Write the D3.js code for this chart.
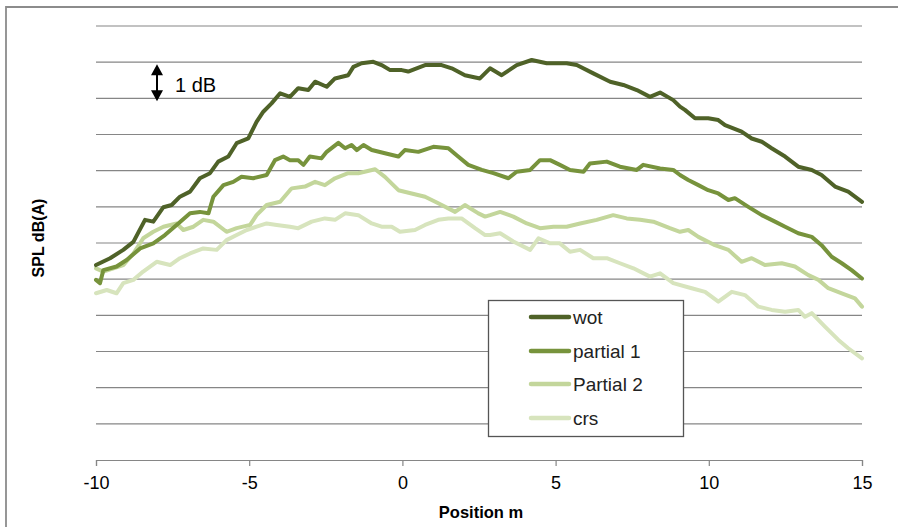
<!DOCTYPE html>
<meta charset="utf-8">
<style>
body { margin: 0; background: #fff; font-family: "Liberation Sans", Arial, sans-serif; }
.grid line { stroke: #868686; stroke-width: 1.2px; }
.axis path, .axis line { stroke: #868686; stroke-width: 1.2px; }
.axis text { font-size: 18px; fill: #000; font-family: "Liberation Sans", Arial, sans-serif; }
.series { fill: none; stroke-width: 4px; stroke-linejoin: round; stroke-linecap: round; }
</style>
<body>
<div id="container"></div>
<script src="https://cdnjs.cloudflare.com/ajax/libs/d3/7.8.5/d3.min.js"></script>
<script>

// position (m), level (dB, relative)
var wot = [
  [-10.00,5.39],[-9.54,5.58],[-9.11,5.81],[-8.78,6.03],[-8.40,6.64],[-8.13,6.59],[-7.80,6.99],
  [-7.53,7.05],[-7.26,7.28],[-6.93,7.42],[-6.61,7.79],[-6.28,7.93],[-6.01,8.25],[-5.68,8.39],
  [-5.41,8.76],[-5.03,8.89],[-4.76,9.35],[-4.54,9.63],[-4.27,9.86],[-3.99,10.14],[-3.67,10.04],
  [-3.40,10.28],[-3.07,10.23],[-2.85,10.46],[-2.47,10.32],[-2.20,10.55],[-1.77,10.64],[-1.60,10.87],
  [-1.33,10.97],[-0.95,11.01],[-0.68,10.92],[-0.40,10.78],[-0.02,10.78],[0.19,10.74],[0.74,10.92],
  [1.28,10.92],[1.61,10.83],[2.04,10.64],[2.53,10.55],[2.86,10.83],[3.24,10.64],[3.73,10.92],
  [4.22,11.06],[4.71,10.97],[5.36,10.97],[5.69,10.92],[6.23,10.69],[6.78,10.46],[7.21,10.37],
  [7.65,10.23],[8.08,10.04],[8.41,10.16],[8.84,9.95],[9.06,9.77],[9.22,9.68],[9.55,9.45],
  [9.98,9.45],[10.31,9.40],[10.53,9.26],[11.07,9.08],[11.40,8.89],[11.73,8.80],[12.05,8.62],
  [12.49,8.39],[12.92,8.11],[13.36,8.02],[13.68,7.88],[14.12,7.56],[14.55,7.42],[15.00,7.14]
];
var partial1 = [
  [-10.00,4.98],[-9.87,4.89],[-9.76,5.25],[-9.33,5.35],[-9.00,5.53],[-8.56,5.85],[-8.13,5.99],
  [-7.75,6.22],[-7.37,6.50],[-6.93,6.82],[-6.61,6.86],[-6.33,6.82],[-6.17,7.28],[-5.84,7.60],
  [-5.52,7.69],[-5.25,7.83],[-4.87,7.79],[-4.43,7.88],[-4.16,8.29],[-3.89,8.39],[-3.67,8.29],
  [-3.40,8.29],[-3.23,8.16],[-3.02,8.39],[-2.64,8.34],[-2.47,8.52],[-2.09,8.77],[-1.87,8.62],
  [-1.66,8.71],[-1.49,8.57],[-1.27,8.71],[-1.00,8.57],[-0.57,8.48],[-0.13,8.39],[0.08,8.57],
  [0.52,8.52],[1.01,8.66],[1.50,8.62],[1.82,8.39],[2.15,8.16],[2.59,8.02],[2.97,7.93],
  [3.46,7.79],[3.73,7.97],[4.17,8.02],[4.49,8.29],[4.82,8.29],[5.14,8.16],[5.47,8.02],
  [5.91,7.97],[6.12,8.20],[6.67,8.25],[7.10,8.11],[7.65,8.02],[7.86,8.16],[8.41,8.06],
  [8.84,8.02],[9.06,7.88],[9.33,7.74],[9.66,7.60],[9.98,7.46],[10.31,7.37],[10.64,7.19],
  [10.85,7.24],[11.29,7.00],[11.73,6.77],[12.16,6.59],[12.49,6.45],[12.92,6.27],[13.36,6.17],
  [13.68,5.94],[14.01,5.62],[14.34,5.44],[14.66,5.25],[15.00,5.02]
];
var partial2 = [
  [-10.00,5.30],[-9.76,5.21],[-9.43,5.30],[-9.11,5.39],[-8.78,5.71],[-8.46,6.13],[-8.13,6.31],
  [-7.80,6.45],[-7.37,6.54],[-7.15,6.36],[-6.82,6.45],[-6.50,6.64],[-6.17,6.59],[-5.74,6.31],
  [-5.41,6.41],[-4.97,6.50],[-4.76,6.77],[-4.43,7.05],[-3.99,7.14],[-3.67,7.46],[-3.61,7.51],
  [-3.18,7.56],[-2.85,7.69],[-2.53,7.60],[-2.20,7.79],[-1.77,7.93],[-1.44,7.93],[-0.89,8.04],
  [-0.57,7.83],[-0.13,7.46],[0.30,7.37],[0.74,7.28],[1.17,7.10],[1.72,6.86],[2.04,7.05],
  [2.48,6.82],[2.70,6.73],[2.86,6.77],[3.19,6.86],[3.62,6.73],[4.06,6.54],[4.49,6.41],
  [4.93,6.45],[5.36,6.45],[5.80,6.54],[6.34,6.64],[6.88,6.77],[7.32,6.68],[7.76,6.64],
  [8.19,6.59],[8.73,6.41],[9.06,6.31],[9.33,6.36],[9.66,6.17],[10.20,5.94],[10.64,5.81],
  [11.07,5.48],[11.40,5.58],[11.83,5.39],[12.38,5.44],[12.81,5.35],[13.25,5.11],[13.58,4.98],
  [13.90,4.75],[14.34,4.61],[14.77,4.47],[15.00,4.24]
];
var crs = [
  [-10.00,4.61],[-9.65,4.70],[-9.33,4.61],[-9.11,4.89],[-8.78,4.98],[-8.46,5.21],[-8.02,5.48],
  [-7.58,5.39],[-7.26,5.58],[-6.93,5.71],[-6.50,5.85],[-6.06,5.81],[-5.74,6.08],[-5.41,6.22],
  [-5.08,6.36],[-4.76,6.45],[-4.43,6.54],[-4.10,6.50],[-3.67,6.45],[-3.40,6.41],[-2.96,6.59],
  [-2.53,6.68],[-2.20,6.64],[-1.87,6.82],[-1.44,6.77],[-1.00,6.54],[-0.68,6.45],[-0.35,6.45],
  [-0.08,6.31],[0.41,6.36],[0.74,6.50],[1.17,6.64],[1.50,6.68],[1.93,6.68],[2.37,6.41],
  [2.70,6.22],[2.86,6.22],[3.19,6.27],[3.62,6.04],[4.17,5.81],[4.44,6.13],[4.82,5.99],
  [5.14,5.99],[5.47,5.76],[5.80,5.81],[6.23,5.58],[6.67,5.58],[7.10,5.44],[7.54,5.30],
  [8.08,5.07],[8.41,5.16],[8.84,4.89],[9.44,4.75],[9.88,4.65],[10.31,4.38],[10.75,4.65],
  [11.18,4.56],[11.62,4.24],[12.05,4.15],[12.49,4.10],[12.92,4.15],[13.14,3.96],[13.36,4.06],
  [13.79,3.69],[14.23,3.32],[14.55,3.09],[15.00,2.81]
];

var seriesNames = ["wot", "partial 1", "Partial 2", "crs"];
var seriesColors = ["#4f6228", "#77933c", "#c3d69b", "#d7e4bd"];
var xTicks = [-10, -5, 0, 5, 10, 15];
var yGrid = [1, 2, 3, 4, 5, 6, 7, 8, 9, 10, 11, 12];

var width = 898, height = 527;
var margin = {top: 26, right: 36, bottom: 67, left: 96};

var x = d3.scaleLinear().domain([-10, 15]).range([margin.left, width - margin.right]);
var y = d3.scaleLinear().domain([0, 12]).range([height - margin.bottom, margin.top]);

var svg = d3.select("#container").append("svg")
    .attr("width", width)
    .attr("height", height);

// chart frame (left and top edges visible)
svg.append("path")
    .attr("d", "M6,527 L6,7 L898,7")
    .attr("fill", "none")
    .attr("stroke", "#8c8c8c")
    .attr("stroke-width", 1.8);

// horizontal gridlines
svg.append("g").attr("class", "grid")
  .selectAll("line").data(yGrid).enter().append("line")
    .attr("x1", x(-10)).attr("x2", x(15))
    .attr("y1", function(d) { return y(d); })
    .attr("y2", function(d) { return y(d); });

// x axis (plain hyphen minus like the original)
var xAxis = d3.axisBottom(x).tickValues(xTicks).tickSize(6).tickPadding(10)
    .tickFormat(function(d) { return String(d); });
svg.append("g").attr("class", "axis")
    .attr("transform", "translate(0," + y(0) + ")")
    .call(xAxis);

// the lines
var line = d3.line()
    .x(function(d) { return x(d[0]); })
    .y(function(d) { return y(d[1]); });

var allSeries = [crs, partial2, partial1, wot];
var allColors = [seriesColors[3], seriesColors[2], seriesColors[1], seriesColors[0]];
allSeries.forEach(function(s, i) {
  svg.append("path")
      .attr("class", "series")
      .attr("d", line(s))
      .attr("stroke", allColors[i]);
});

// 1 dB marker
var ax = 157;
svg.append("line")
    .attr("x1", ax).attr("x2", ax)
    .attr("y1", y(10.94) + 6).attr("y2", y(9.92) - 6)
    .attr("stroke", "#000").attr("stroke-width", 2);
svg.append("path")
    .attr("d", "M" + ax + "," + y(10.94) + " l-6,11 l12,0 z M" + ax + "," + y(9.92) + " l-6,-11 l12,0 z")
    .attr("fill", "#000");
svg.append("text")
    .attr("x", 175).attr("y", 92)
    .attr("font-size", "20px")
    .text("1 dB");

// axis titles
svg.append("text")
    .attr("x", 481).attr("y", 518)
    .attr("text-anchor", "middle")
    .attr("font-weight", "bold")
    .attr("font-size", "16.5px")
    .text("Position m");

svg.append("text")
    .attr("transform", "translate(44,238) rotate(-90)")
    .attr("text-anchor", "middle")
    .attr("font-weight", "bold")
    .attr("font-size", "16px")
    .text("SPL dB(A)");

// legend
var legend = svg.append("g");
legend.append("rect")
    .attr("x", 488.5).attr("y", 300.5)
    .attr("width", 195).attr("height", 136)
    .attr("fill", "#fff")
    .attr("stroke", "#555").attr("stroke-width", 1.3);

var legendY = [317, 351, 384, 418];
seriesNames.forEach(function(name, i) {
  legend.append("line")
      .attr("x1", 531).attr("x2", 569)
      .attr("y1", legendY[i]).attr("y2", legendY[i])
      .attr("stroke", seriesColors[i])
      .attr("stroke-width", 4.5)
      .attr("stroke-linecap", "round");
  legend.append("text")
      .attr("x", 573).attr("y", legendY[i] + 7)
      .attr("font-size", "19px")
      .attr("fill", "#222")
      .text(name);
});

</script>
</body>
